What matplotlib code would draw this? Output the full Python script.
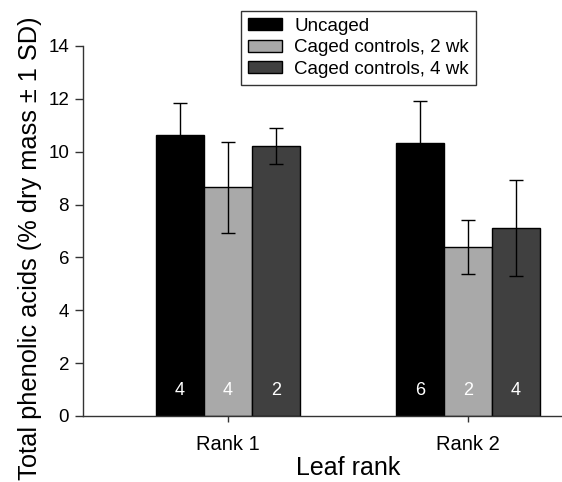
import numpy as np
import matplotlib.pyplot as plt
from matplotlib.patches import Patch

plt.rcParams['font.family'] = ['Liberation Sans', 'DejaVu Sans']

# 数据
groups = ["Rank 1", "Rank 2"]
series = ["Uncaged", "Caged controls, 2 wk", "Caged controls, 4 wk"]
means = [
    [10.63, 10.32],
    [8.65, 6.40],
    [10.22, 7.10],
]
sds = [
    [1.22, 1.61],
    [1.73, 1.03],
    [0.69, 1.82],
]
counts = [
    [4, 6],
    [4, 2],
    [2, 4],
]
colors = ["#000000", "#a9a9a9", "#404040"]

fig = plt.figure(figsize=(5.62, 4.82), dpi=100)
ax = fig.add_axes([0.1477, 0.137, 0.8523, 0.7676])

x = np.arange(len(groups))
w = 0.2
for i in range(len(series)):
    pos = x + (i - 1) * w
    ax.bar(pos, means[i], width=w, color=colors[i], edgecolor="black",
           linewidth=1.0, zorder=2)
    ax.errorbar(pos, means[i], yerr=sds[i], fmt="none", ecolor="black",
                elinewidth=1.0, capsize=5, capthick=1.0, zorder=3)
    for p, n in zip(pos, counts[i]):
        ax.text(p, 0.95, str(n), color="white", ha="center", va="center",
                fontsize=13, zorder=4)

ax.set_xlim(-0.604, 1.392)
ax.set_ylim(0, 14)
ax.set_yticks(range(0, 15, 2))
ax.set_xticks(x)
ax.set_xticklabels(groups, fontsize=14.5)
ax.tick_params(axis="y", labelsize=13.5, direction="out", length=6, width=1.0,
               color="#333333", pad=4)
ax.tick_params(axis="x", direction="out", length=4, width=1.0,
               color="#333333", pad=10)
ax.spines["top"].set_visible(False)
ax.spines["right"].set_visible(False)
for s in ["left", "bottom"]:
    ax.spines[s].set_color("#333333")
    ax.spines[s].set_linewidth(1.0)

ax.set_xlabel("Leaf rank", fontsize=18)
ax.xaxis.set_label_coords(0.553, -0.108)
ax.set_ylabel("Total phenolic acids (% dry mass \u00b1 1 SD)", fontsize=18.3)
ax.yaxis.set_label_coords(-0.0856, 0.454)

handles = [Patch(facecolor=c, edgecolor="black", linewidth=1.0) for c in colors]
leg = fig.legend(handles, series, loc="upper left",
                 bbox_to_anchor=(241 / 562, 1 - 11 / 482), borderaxespad=0,
                 fontsize=13.5, fancybox=False, edgecolor="black",
                 handlelength=1.85, handleheight=0.63, labelspacing=0.25,
                 borderpad=0.35, handletextpad=0.64)
leg.get_frame().set_linewidth(1.0)

fig.savefig("out.png", dpi=100)
